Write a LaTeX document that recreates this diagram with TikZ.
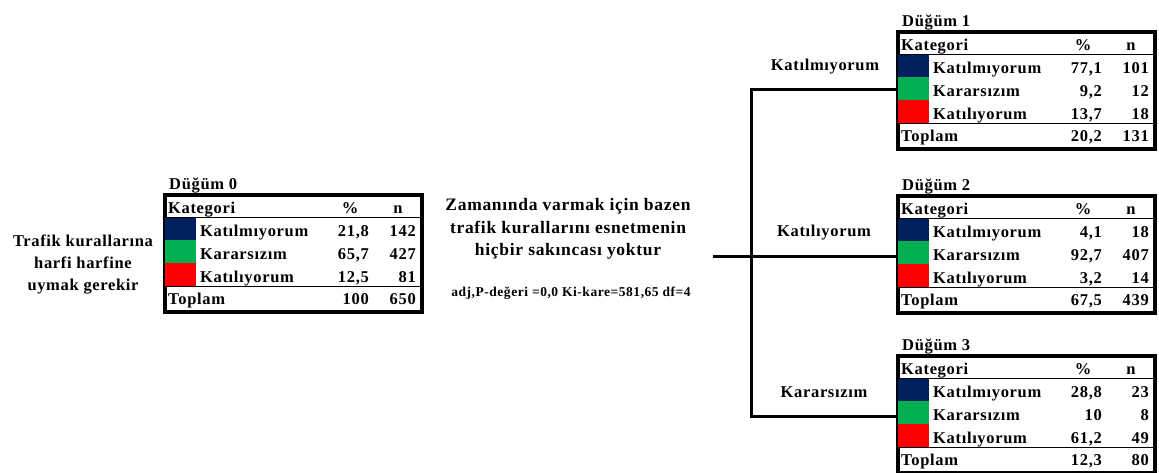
\documentclass[tikz,border=0pt]{standalone}
\usepackage{fontspec}
\setmainfont[LetterSpace=4]{Liberation Serif}
\definecolor{cblue}{HTML}{002060}
\definecolor{cgreen}{HTML}{00B050}
\definecolor{cred}{HTML}{FF0000}
\tikzset{
  tbox/.style={draw, line width=2.5pt, minimum width=256pt, minimum height=116pt, anchor=north west, inner sep=0pt},
  tline/.style={line width=0.9pt},
  conn/.style={line width=3pt},
  ttext/.style={inner sep=0pt, font=\fontsize{16.5}{19}\selectfont\bfseries},
  btext/.style={inner sep=0pt, align=center, font=\fontsize{16.5}{22}\selectfont\bfseries},
  mtext/.style={inner sep=0pt, align=center, font=\fontsize{17.5}{22.5}\selectfont\bfseries},
  stext/.style={inner sep=0pt, font=\fontsize{13.5}{15}\selectfont\bfseries},
}
% #1 name, #2 x, #3 y, #4 title
\newcommand\DTab[4]{%
  \node[tbox] (#1) at (#2,#3) {};
  \node[ttext, anchor=base west] (#1-title) at ([xshift=5pt,yshift=5pt]#1.north west) {#4};
}
% #1 name, #2..#9 values
\newcommand\DTabRows[9]{%
  \begin{scope}[shift={(#1.north west)}]
    \fill[cblue] (0,23) rectangle (32,46);
    \fill[cgreen] (0,46) rectangle (32,69);
    \fill[cred] (0,69) rectangle (32,92);
    \draw[tline] (0,23) -- (256,23);
    \draw[tline] (0,92) -- (256,92);
    \node[ttext, anchor=base west] (#1-h) at (4,19) {Kategori};
    \node[ttext, anchor=base] (#1-hp) at (186,19) {\%};
    \node[ttext, anchor=base] (#1-hn) at (234,19) {n};
    \node[ttext, anchor=base west] (#1-l1) at (36,42) {Katılmıyorum};
    \node[ttext, anchor=base west] (#1-l2) at (36,65) {Kararsızım};
    \node[ttext, anchor=base west] (#1-l3) at (36,88) {Katılıyorum};
    \node[ttext, anchor=base west] (#1-lt) at (4,110) {Toplam};
    \node[ttext, anchor=base east] (#1-p1) at (205,42) {#2};
    \node[ttext, anchor=base east] (#1-n1) at (252,42) {#3};
    \node[ttext, anchor=base east] (#1-p2) at (205,65) {#4};
    \node[ttext, anchor=base east] (#1-n2) at (252,65) {#5};
    \node[ttext, anchor=base east] (#1-p3) at (205,88) {#6};
    \node[ttext, anchor=base east] (#1-n3) at (252,88) {#7};
    \node[ttext, anchor=base east] (#1-pt) at (205,110) {#8};
    \node[ttext, anchor=base east] (#1-nt) at (252,110) {#9};
  \end{scope}
  \draw[line width=2.5pt] (#1.north west) rectangle (#1.south east);
}
\begin{document}
\begin{tikzpicture}[x=1pt, y=-1pt]
  \useasboundingbox (0,0) rectangle (1159,472);
  \fill[white] (0,0) rectangle (1159,472);

  % left question
  \node[btext] (q) at (83,265) {Trafik kurallarına\\harfi harfine\\uymak gerekir};

  % tables
  \DTab{n0}{164}{194}{Düğüm 0}
  \DTabRows{n0}{21,8}{142}{65,7}{427}{12,5}{81}{100}{650}
  \DTab{n1}{897}{31}{Düğüm 1}
  \DTabRows{n1}{77,1}{101}{9,2}{12}{13,7}{18}{20,2}{131}
  \DTab{n2}{897}{195}{Düğüm 2}
  \DTabRows{n2}{4,1}{18}{92,7}{407}{3,2}{14}{67,5}{439}
  \DTab{n3}{897}{355}{Düğüm 3}
  \DTabRows{n3}{28,8}{23}{10}{8}{61,2}{49}{12,3}{80}

  % split variable
  \node[mtext] (v) at (568,229) {Zamanında varmak için bazen\\trafik kurallarını esnetmenin\\hiçbir sakıncası yoktur};
  \node[stext] (stat) at (571,293) {adj,P-değeri =0,0 Ki-kare=581,65 df=4};

  % connectors
  \coordinate (split) at (713,256);
  \coordinate (j1) at (751,89);
  \coordinate (j3) at (751,416);
  \draw[conn] (split) -- (split -| n2.west);
  \draw[conn] (j1 -| n1.west) -- (j1) -- (j3) -- (j3 -| n3.west);

  % branch labels
  \node[ttext, anchor=base] (b1) at (825,70.5) {Katılmıyorum};
  \node[ttext, anchor=base] (b2) at (824,236.5) {Katılıyorum};
  \node[ttext, anchor=base] (b3) at (824,397.5) {Kararsızım};
\end{tikzpicture}
\end{document}
